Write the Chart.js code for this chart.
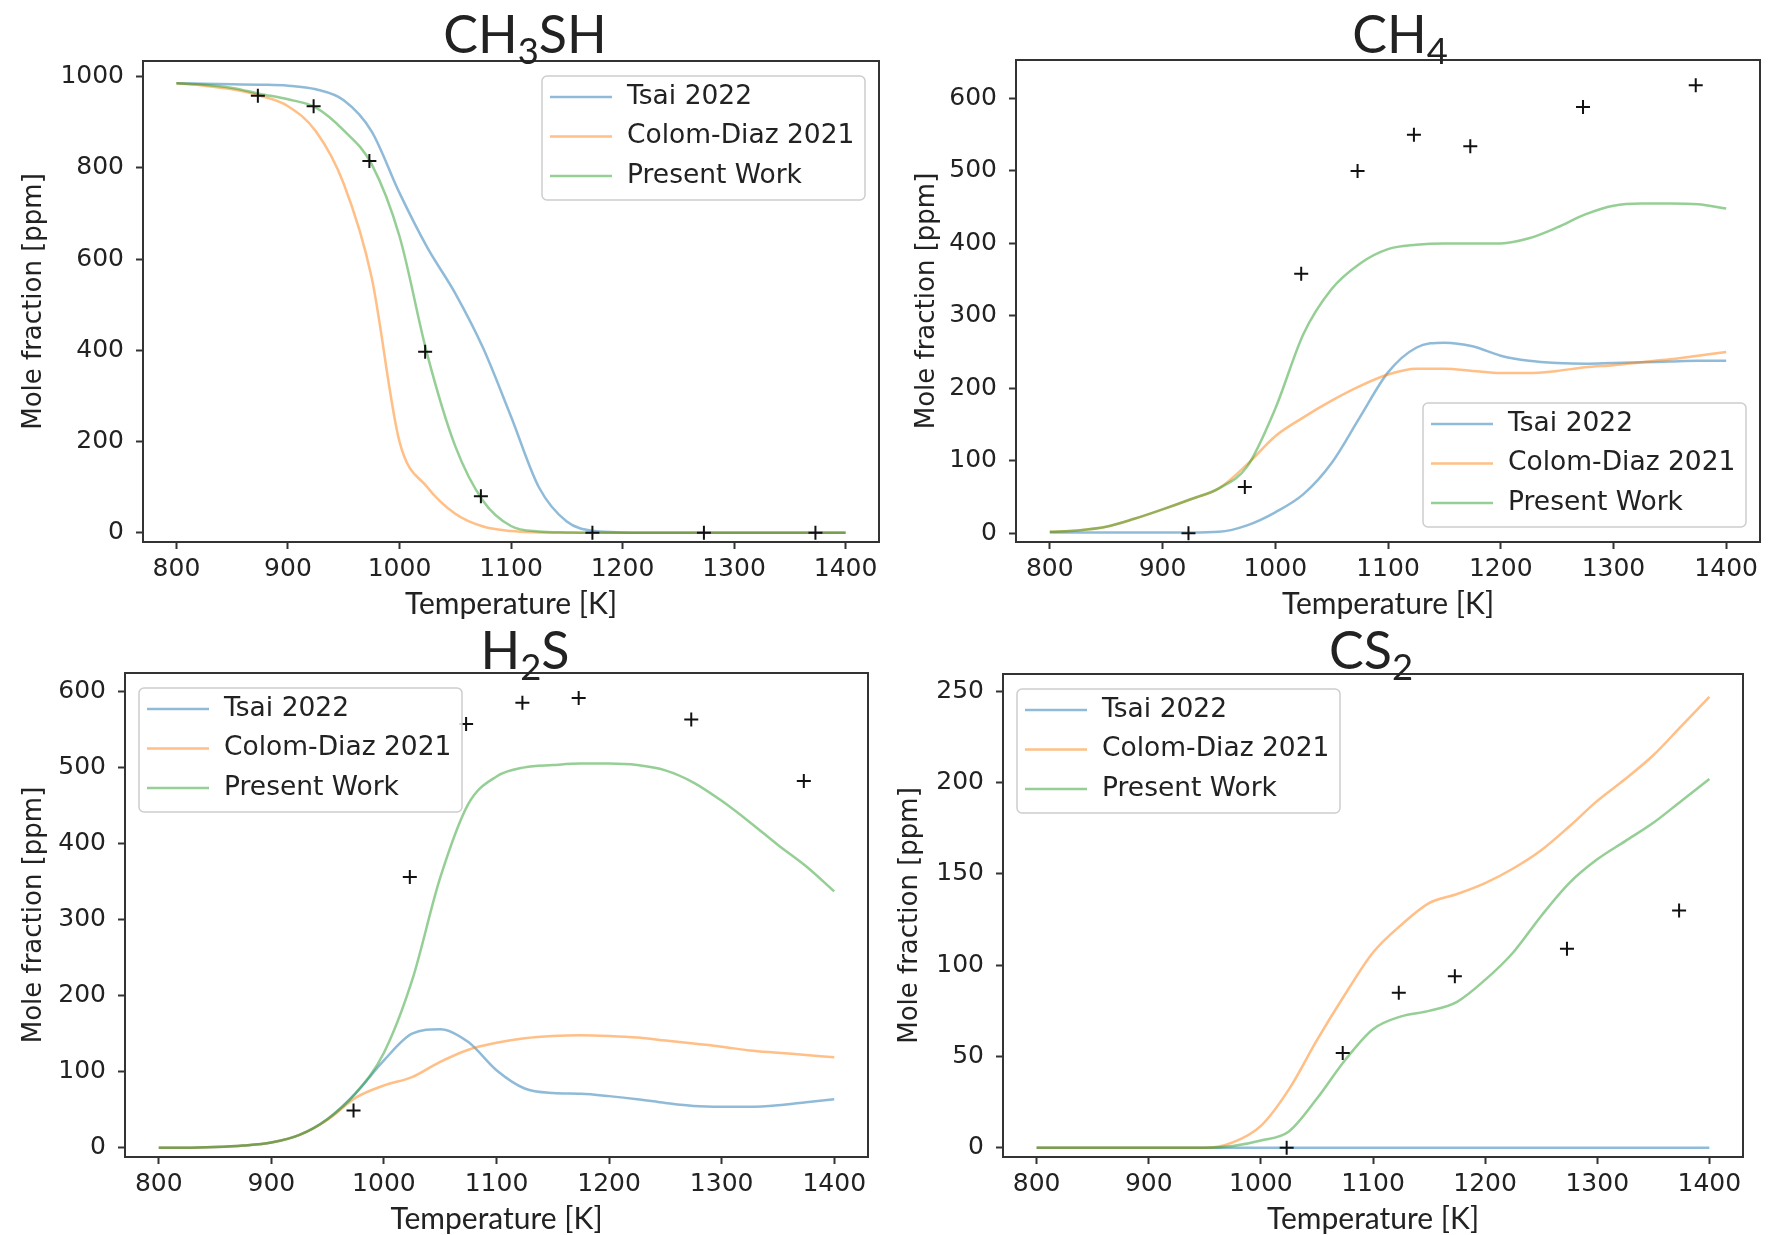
<!DOCTYPE html>
<html>
<head>
<meta charset="utf-8">
<script src="https://cdn.jsdelivr.net/npm/chart.js@4.4.1/dist/chart.umd.min.js"></script>
<style>
  html, body { margin: 0; padding: 0; background: #fff; }
  #page { position: relative; width: 1776px; height: 1235px; overflow: hidden; background: #fff; }
  #page canvas { position: absolute; }
</style>
</head>
<body>
<div id="page">
  <canvas id="ch3sh"></canvas>
  <canvas id="ch4"></canvas>
  <canvas id="h2s"></canvas>
  <canvas id="cs2"></canvas>
</div>
<script>
// ── Data ──────────────────────────────────────────────────────────────────────

const temps = [800, 825, 850, 875, 900, 925, 950, 975, 1000, 1025, 1050, 1075, 1100,
    1125, 1150, 1175, 1200, 1225, 1250, 1275, 1300, 1325, 1350, 1375, 1400];
const xTicks = [800, 900, 1000, 1100, 1200, 1300, 1400];

const seriesLabels = ['Tsai 2022', 'Colom-Diaz 2021', 'Present Work'];

// CH3SH
const ch3shTsai = [985, 984, 983, 982, 980, 972, 948, 880, 745, 625, 525, 405, 255, 100, 25, 4, 1, 0, 0, 0, 0, 0, 0, 0, 0];
const ch3shColom = [985, 980, 972, 958, 935, 880, 765, 560, 200, 100, 42, 14, 4, 1, 0, 0, 0, 0, 0, 0, 0, 0, 0, 0, 0];
const ch3shPresent = [985, 982, 975, 962, 950, 932, 882, 808, 650, 390, 190, 70, 15, 3, 1, 0, 0, 0, 0, 0, 0, 0, 0, 0, 0];
const ch3shExpT = [873, 923, 973, 1023, 1073, 1173, 1273, 1373];
const ch3shExp = [958, 935, 815, 397, 80, 0, 0, 0];
const ch3shYTicks = [0, 200, 400, 600, 800, 1000];

// CH4
const ch4Tsai = [1, 1, 1, 1, 1, 1, 2, 11, 29, 54, 97, 160, 222, 256, 263, 258, 245, 238, 235, 234, 235, 236, 237, 238, 238];
const ch4Colom = [2, 4, 9, 20, 33, 47, 62, 95, 134, 160, 183, 203, 219, 227, 227, 224, 221, 221, 224, 229, 232, 236, 240, 245, 250];
const ch4Present = [2, 4, 9, 20, 33, 47, 62, 92, 172, 275, 337, 372, 392, 398, 400, 400, 400, 407, 422, 440, 452, 455, 455, 454, 448];
const ch4ExpT = [923, 973, 1023, 1073, 1123, 1173, 1273, 1373];
const ch4Exp = [0, 64, 358, 500, 550, 534, 588, 618];
const ch4YTicks = [0, 100, 200, 300, 400, 500, 600];

// H2S
const h2sTsai = [0, 0, 1, 3, 7, 17, 38, 72, 115, 150, 156, 139, 102, 78, 72, 71, 68, 64, 59, 55, 54, 54, 56, 60, 64];
const h2sColom = [0, 0, 1, 3, 7, 17, 37, 66, 82, 93, 113, 129, 138, 144, 147, 148, 147, 145, 141, 137, 133, 128, 125, 122, 119];
const h2sPresent = [0, 0, 1, 3, 7, 17, 38, 72, 125, 220, 355, 452, 488, 500, 503, 505, 505, 503, 496, 480, 456, 428, 398, 370, 337];
const h2sExpT = [973, 1023, 1073, 1123, 1173, 1273, 1373];
const h2sExp = [49, 356, 557, 585, 591, 563, 482];
const h2sYTicks = [0, 100, 200, 300, 400, 500, 600];

// CS2
const cs2Tsai = [0, 0, 0, 0, 0, 0, 0, 0, 0, 0, 0, 0, 0, 0, 0, 0, 0, 0, 0, 0, 0, 0, 0, 0, 0];
const cs2Colom = [0, 0, 0, 0, 0, 0, 0, 3, 12, 32, 59, 84, 107, 122, 134, 139, 145, 153, 163, 176, 190, 202, 215, 231, 247];
const cs2Present = [0, 0, 0, 0, 0, 0, 0, 1, 4, 9, 27, 48, 65, 72, 75, 80, 92, 107, 127, 145, 158, 168, 178, 190, 202];
const cs2ExpT = [1023, 1073, 1123, 1173, 1273, 1373];
const cs2Exp = [0, 52, 85, 94, 109, 130];
const cs2YTicks = [0, 50, 100, 150, 200, 250];

// ── Styles ────────────────────────────────────────────────────────────────────

const lineColors = ['rgba(31,119,180,0.5)', 'rgba(255,127,14,0.5)', 'rgba(44,160,44,0.5)'];
const spineColor = '#333333';
const textColor = '#222222';
const subDigits = '₀₁₂₃₄₅₆₇₈₉';

// ── Plugins ───────────────────────────────────────────────────────────────────

// matplotlib-like frame on all four sides
const framePlugin = {
    id: 'frame',
    afterDatasetsDraw(chart) {
        const { ctx, chartArea: a } = chart;
        ctx.save();
        ctx.strokeStyle = spineColor;
        ctx.lineWidth = 2;
        ctx.strokeRect(a.left, a.top, a.right - a.left, a.bottom - a.top);
        ctx.restore();
    },
};

// title with real subscript digits
const panelTitlePlugin = {
    id: 'panelTitle',
    afterDraw(chart, args, opts) {
        const { ctx } = chart;
        const size = opts.size;
        const parts = [...opts.text].map((ch) => {
            const k = subDigits.indexOf(ch);
            return k >= 0 ? { t: String(k), sub: true } : { t: ch, sub: false };
        });
        ctx.save();
        ctx.fillStyle = textColor;
        ctx.textBaseline = 'alphabetic';
        let total = 0;
        parts.forEach((p) => {
            ctx.font = `${p.sub ? size * 0.7 : size}px ${opts.family}`;
            p.w = ctx.measureText(p.t).width;
            total += p.w;
        });
        let x = opts.x - total / 2;
        parts.forEach((p) => {
            ctx.font = `${p.sub ? size * 0.7 : size}px ${opts.family}`;
            ctx.fillText(p.t, x, opts.y + (p.sub ? size * 0.22 : 0));
            x += p.w;
        });
        ctx.restore();
    },
};

// legend box drawn inside the axes like matplotlib; corner = 'upper right' etc.
const mplLegendPlugin = {
    id: 'mplLegend',
    afterDraw(chart, args, opts) {
        const { ctx, chartArea: a } = chart;
        const w = 323, h = 124, inX = 14, inY = 15;
        const [vert, horiz] = opts.corner.split(' ');
        const x = horiz === 'left' ? a.left + inX : a.right - inX - w;
        const y = vert === 'upper' ? a.top + inY : a.bottom - inY - h;
        ctx.save();
        ctx.beginPath();
        ctx.roundRect(x, y, w, h, 5);
        ctx.fillStyle = 'rgba(255,255,255,0.85)';
        ctx.fill();
        ctx.strokeStyle = 'rgba(200,200,200,0.9)';
        ctx.lineWidth = 1.5;
        ctx.stroke();
        ctx.font = '26.5px "DejaVu Sans"';
        ctx.textBaseline = 'middle';
        seriesLabels.forEach((label, i) => {
            const ry = y + 21 + i * 39.5;
            ctx.strokeStyle = lineColors[i];
            ctx.lineWidth = 2.5;
            ctx.beginPath();
            ctx.moveTo(x + 8, ry);
            ctx.lineTo(x + 70, ry);
            ctx.stroke();
            ctx.fillStyle = textColor;
            ctx.fillText(label, x + 85, ry);
        });
        ctx.restore();
    },
};

// ── Panels ────────────────────────────────────────────────────────────────────

function toPoints(xs, ys) {
    return xs.map((x, i) => ({ x, y: ys[i] }));
}

function buildPanel(p) {
    const canvas = document.getElementById(p.id);
    const [cx, cy, cw, ch] = p.canvas;
    const [al, at, ar, ab] = p.area;
    canvas.width = cw;
    canvas.height = ch;
    canvas.style.left = `${cx}px`;
    canvas.style.top = `${cy}px`;

    const tickFont = { family: 'DejaVu Sans', size: 25 };
    const gridOpts = {
        display: true,
        drawOnChartArea: false,
        drawTicks: true,
        tickLength: 7,
        tickWidth: 2,
        tickColor: spineColor,
        color: spineColor,
    };
    const curve = (values, i) => ({
        label: seriesLabels[i],
        data: toPoints(temps, values),
        borderColor: lineColors[i],
        borderWidth: 2.5,
        pointRadius: 0,
        cubicInterpolationMode: 'monotone',
        fill: false,
    });

    return new Chart(canvas, {
        type: 'line',
        data: {
            datasets: [
                {
                    label: 'Experiment',
                    data: toPoints(p.expT, p.exp),
                    showLine: false,
                    pointStyle: 'cross',
                    pointRadius: 7,
                    pointBorderWidth: 2,
                    borderColor: '#111',
                    backgroundColor: '#111',
                },
                curve(p.present, 2),
                curve(p.colom, 1),
                curve(p.tsai, 0),
            ],
        },
        options: {
            responsive: false,
            animation: false,
            events: [],
            layout: { padding: { left: 0, top: at - cy, right: cx + cw - ar, bottom: 0 } },
            plugins: {
                legend: { display: false },
                tooltip: { enabled: false },
                title: { display: false },
                panelTitle: { text: p.title, x: p.titleX - cx, y: p.titleBase - cy, size: 52, family: 'Lato' },
                mplLegend: { corner: p.legend },
            },
            scales: {
                x: {
                    type: 'linear',
                    min: 770,
                    max: 1430,
                    afterBuildTicks(scale) { scale.ticks = xTicks.map((v) => ({ value: v })); },
                    afterFit(scale) {
                        scale.height = cy + ch - ab;
                        scale.paddingLeft = 0;
                        scale.paddingRight = 0;
                    },
                    grid: gridOpts,
                    border: { display: false },
                    ticks: { font: tickFont, color: textColor, padding: 5, maxRotation: 0, autoSkip: false, callback: (v) => `${v}` },
                    title: {
                        display: true,
                        text: 'Temperature [K]',
                        color: textColor,
                        font: { family: 'Lato', size: 30, lineHeight: 1 },
                        padding: { top: 0, bottom: cy + ch - p.xLabelY - 15 },
                    },
                },
                y: {
                    type: 'linear',
                    min: p.yMin,
                    max: p.yMax,
                    afterBuildTicks(scale) { scale.ticks = p.yTicks.map((v) => ({ value: v })); },
                    afterFit(scale) {
                        scale.width = al - cx;
                        scale.paddingTop = 0;
                        scale.paddingBottom = 0;
                    },
                    grid: gridOpts,
                    border: { display: false },
                    ticks: { font: tickFont, color: textColor, padding: 12, autoSkip: false, callback: (v) => `${v}` },
                    title: {
                        display: true,
                        text: 'Mole fraction [ppm]',
                        color: textColor,
                        font: { family: 'DejaVu Sans', size: 26, lineHeight: 1 },
                        padding: { top: p.yLabelX - cx - 13, bottom: 0 },
                    },
                },
            },
        },
        plugins: [framePlugin, panelTitlePlugin, mplLegendPlugin],
    });
}

buildPanel({
    id: 'ch3sh', title: 'CH₃SH', legend: 'upper right',
    canvas: [0, 0, 888, 625], area: [143, 61, 885, 542],
    titleX: 525, titleBase: 53, xLabelY: 604, yLabelX: 34,
    yMin: -20, yMax: 1034, yTicks: ch3shYTicks,
    tsai: ch3shTsai, colom: ch3shColom, present: ch3shPresent, expT: ch3shExpT, exp: ch3shExp,
});

buildPanel({
    id: 'ch4', title: 'CH₄', legend: 'lower right',
    canvas: [890, 0, 886, 625], area: [1016, 60, 1760, 542],
    titleX: 1400, titleBase: 53, xLabelY: 604, yLabelX: 927,
    yMin: -12, yMax: 653, yTicks: ch4YTicks,
    tsai: ch4Tsai, colom: ch4Colom, present: ch4Present, expT: ch4ExpT, exp: ch4Exp,
});

buildPanel({
    id: 'h2s', title: 'H₂S', legend: 'upper left',
    canvas: [0, 620, 888, 615], area: [125, 673, 868, 1157],
    titleX: 525, titleBase: 669, xLabelY: 1219, yLabelX: 34,
    yMin: -12, yMax: 624, yTicks: h2sYTicks,
    tsai: h2sTsai, colom: h2sColom, present: h2sPresent, expT: h2sExpT, exp: h2sExp,
});

buildPanel({
    id: 'cs2', title: 'CS₂', legend: 'upper left',
    canvas: [890, 620, 886, 615], area: [1003, 674, 1743, 1157],
    titleX: 1371, titleBase: 669, xLabelY: 1219, yLabelX: 910,
    yMin: -5, yMax: 259.5, yTicks: cs2YTicks,
    tsai: cs2Tsai, colom: cs2Colom, present: cs2Present, expT: cs2ExpT, exp: cs2Exp,
});
</script>
</body>
</html>
